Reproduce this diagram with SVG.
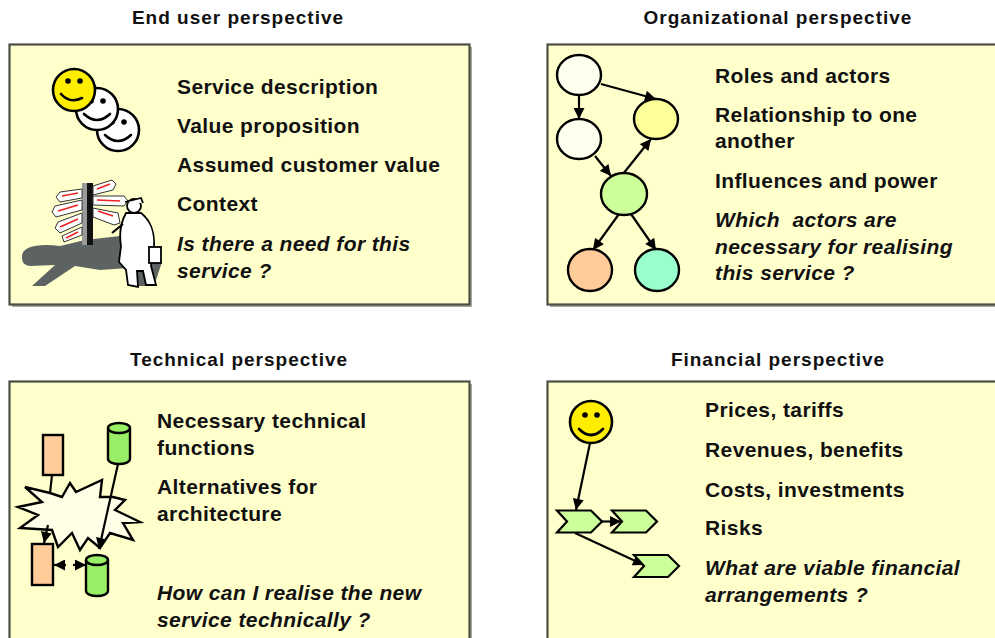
<svg xmlns="http://www.w3.org/2000/svg" width="995" height="638" viewBox="0 0 995 638">
  <style>
    .title { font-family: "Liberation Sans", Arial, sans-serif; font-weight: bold; font-size: 19px; letter-spacing: 1px; fill: #111; text-anchor: middle; }
    .item { font-family: "Liberation Sans", Arial, sans-serif; font-weight: bold; font-size: 21px; letter-spacing: 0.4px; fill: #111; }
    .q { font-style: italic; }
    .panel { fill: #ffffcc; stroke: #4e4e44; stroke-width: 2.2; }
    .shadow { fill: #a8a8a0; }
    .ln { stroke: #000; stroke-width: 2.2; fill: none; }
    .arr { stroke: #000; stroke-width: 2.2; fill: none; marker-end: url(#ah); }
    .node { stroke: #000; stroke-width: 2.4; }
    .face { stroke: #000; stroke-width: 2.6; }
    .smile { stroke: #000; stroke-width: 2.6; fill: none; stroke-linecap: round; }
    .outl { stroke: #000; stroke-width: 1.8; }
  </style>
  <defs>
    <marker id="ah" viewBox="0 0 10 10" refX="10" refY="5" markerWidth="13" markerHeight="11" orient="auto-start-reverse" markerUnits="userSpaceOnUse">
      <path d="M0,0 L10,5 L0,10 z" fill="#000"/>
    </marker>
    <g id="smiley">
      <circle r="21" fill="#fff" class="face"/>
      <circle cx="-6" cy="-8" r="2.8" fill="#000"/>
      <circle cx="6" cy="-8" r="2.8" fill="#000"/>
      <path d="M-13,5 Q0,17 13,5" class="smile"/>
    </g>
    <path id="chev" d="M0,0 H34 L45,11 L34,22 H0 L10,11 Z"/>
  </defs>

  <rect width="995" height="638" fill="#fff"/>

  <!-- panel frames -->
  <g id="panels">
    <rect class="shadow" x="12" y="47" width="460" height="260"/>
    <rect class="panel" x="9.5" y="44.5" width="460" height="260"/>
    <rect class="shadow" x="550" y="47" width="460" height="260"/>
    <rect class="panel" x="547.5" y="44.5" width="460" height="260"/>
    <rect class="shadow" x="12" y="384" width="460" height="270"/>
    <rect class="panel" x="9.5" y="381.5" width="460" height="270"/>
    <rect class="shadow" x="550" y="384" width="460" height="270"/>
    <rect class="panel" x="547.5" y="381.5" width="460" height="270"/>
  </g>

  <!-- headings -->
  <g id="headings">
    <text class="title" x="238" y="24">End user perspective</text>
    <text class="title" x="778" y="24">Organizational perspective</text>
    <text class="title" x="239" y="366">Technical perspective</text>
    <text class="title" x="778" y="366">Financial perspective</text>
  </g>

  <!-- end user panel -->
  <g id="enduser">
    <g id="faces">
      <use href="#smiley" x="118" y="130"/>
      <use href="#smiley" x="97" y="109"/>
      <g transform="translate(74,90)">
        <circle r="21" fill="#ffee00" class="face"/>
        <circle cx="-6" cy="-9" r="2.8" fill="#000"/>
        <circle cx="6" cy="-9" r="2.8" fill="#000"/>
        <path d="M-13,4 Q-4,14 8,8" class="smile"/>
      </g>
    </g>
    <g id="signpost">
      <!-- ground shadow -->
      <path d="M22,256 C22,246 40,243 60,246 L85,240 L120,236 L150,240 L162,262 L154,286 L138,286 L128,268 L100,270 L75,266 L45,286 L32,286 L55,265 L30,266 C22,265 22,260 22,256 Z" fill="#5d6363"/>
      <!-- post -->
      <rect x="82" y="183" width="5" height="62" fill="#9a9a9a"/>
      <rect x="87" y="183" width="6" height="62" fill="#111"/>
      <!-- left signs -->
      <path d="M60,192 L82,189 L82,198 L60,202 L56,197 Z" fill="#fff" stroke="#333" stroke-width="1"/>
      <path d="M55,206 L82,200 L82,210 L56,217 L52,212 Z" fill="#fff" stroke="#333" stroke-width="1"/>
      <path d="M58,222 L82,213 L82,223 L60,233 L55,228 Z" fill="#fff" stroke="#333" stroke-width="1"/>
      <path d="M62,236 L82,227 L82,235 L64,242 Z" fill="#fff" stroke="#333" stroke-width="1"/>
      <path d="M62,196 L78,193 M58,211 L78,205 M60,227 L78,219 M66,238 L78,232" stroke="#ee2222" stroke-width="1.6"/>
      <!-- right signs -->
      <path d="M93,186 L112,180 L116,184 L113,190 L93,195 Z" fill="#fff" stroke="#333" stroke-width="1"/>
      <path d="M93,196 L124,196 L128,201 L124,206 L93,205 Z" fill="#fff" stroke="#333" stroke-width="1"/>
      <path d="M93,208 L118,213 L120,223 L114,225 L93,217 Z" fill="#fff" stroke="#333" stroke-width="1"/>
      <path d="M97,189 L110,184 M97,200 L120,201 M98,211 L113,216" stroke="#ee2222" stroke-width="1.6"/>
      <!-- traveller -->
      <path d="M126,213 C121,222 119,234 121,246 L119,262 L126,270 L128,285 L138,287 L137,271 L143,271 L146,285 L156,285 L151,266 L154,246 C155,232 150,220 141,213 Z" fill="#fff" class="outl"/>
      <circle cx="134" cy="206" r="7" fill="#fff" class="outl"/>
      <path d="M125,202 L141,198 L143,203" fill="#fff" class="outl"/>
      <path d="M123,224 L112,233" class="ln" stroke-width="1.6"/>
      <rect x="149" y="247" width="12" height="16" fill="#fff" class="outl"/>
    </g>
    <text class="item" x="177" y="94">Service description</text>
    <text class="item" x="177" y="133">Value proposition</text>
    <text class="item" x="177" y="172">Assumed customer value</text>
    <text class="item" x="177" y="211">Context</text>
    <text class="item q" x="177" y="251">Is there a need for this</text>
    <text class="item q" x="177" y="278">service ?</text>
  </g>

  <!-- organizational panel -->
  <g id="org-links">
    <line class="arr" x1="601" y1="84" x2="656" y2="99"/>
    <line class="arr" x1="579" y1="95" x2="579" y2="119"/>
    <line class="arr" x1="595" y1="156" x2="611" y2="176"/>
    <line class="arr" x1="623" y1="174" x2="651" y2="139"/>
    <line class="arr" x1="619" y1="214" x2="593" y2="250"/>
    <line class="arr" x1="631" y1="214" x2="656" y2="250"/>
  </g>
  <g id="actor-a"><ellipse class="node" cx="579" cy="75" rx="22" ry="20" fill="#fffff0"/></g>
  <g id="actor-b"><ellipse class="node" cx="579" cy="139" rx="22" ry="20" fill="#fffff0"/></g>
  <g id="actor-c"><ellipse class="node" cx="656" cy="119" rx="22" ry="20" fill="#ffff99"/></g>
  <g id="actor-d"><ellipse class="node" cx="624" cy="194" rx="23" ry="21" fill="#ccff99"/></g>
  <g id="actor-e"><ellipse class="node" cx="590" cy="270" rx="22" ry="21" fill="#ffcc99"/></g>
  <g id="actor-f"><ellipse class="node" cx="657" cy="270" rx="22" ry="21" fill="#99ffcc"/></g>
  <g id="org-text">
    <text class="item" x="715" y="83">Roles and actors</text>
    <text class="item" x="715" y="122">Relationship to one</text>
    <text class="item" x="715" y="148">another</text>
    <text class="item" x="715" y="188">Influences and power</text>
    <text class="item q" x="715" y="227" xml:space="preserve">Which  actors are</text>
    <text class="item q" x="715" y="254">necessary for realising</text>
    <text class="item q" x="715" y="280">this service ?</text>
  </g>

  <!-- technical panel -->
  <g id="tech-burst">
    <path d="M18,507 L42,502 L25,487 L50,493 L62,497 L70,483 L76,492 L102,480 L100,497 L113,497 L125,500 L115,510 L140,522 L123,523 L133,540 L110,533 L100,548 L88,538 L80,550 L72,533 L58,547 L52,530 L20,528 L38,515 Z" fill="#ffffe8" stroke="#000" stroke-width="2.4" stroke-linejoin="miter"/>
  </g>
  <g id="tech-links">
    <line class="ln" x1="52" y1="475" x2="50" y2="493"/>
    <line class="arr" x1="118" y1="464" x2="99" y2="549"/>
    <line class="arr" x1="48" y1="525" x2="44" y2="543"/>
    <line class="arr" x1="66" y1="565" x2="54" y2="565"/>
    <line class="arr" x1="73" y1="565" x2="86" y2="565"/>
  </g>
  <g id="comp-top"><rect class="node" x="43" y="435" width="20" height="40" fill="#ffcc99"/></g>
  <g id="db-top">
    <path class="node" d="M108,428 V459 A11,5 0 0 0 130,459 V428" fill="#99ee66"/>
    <ellipse class="node" cx="119" cy="428" rx="11" ry="5" fill="#99ee66"/>
  </g>
  <g id="comp-bottom"><rect class="node" x="32" y="544" width="21" height="41" fill="#ffcc99"/></g>
  <g id="db-bottom">
    <path class="node" d="M86,560 V591 A11,5 0 0 0 108,591 V560" fill="#99ee66"/>
    <ellipse class="node" cx="97" cy="560" rx="11" ry="5" fill="#99ee66"/>
  </g>
  <g id="tech-text">
    <text class="item" x="157" y="428">Necessary technical</text>
    <text class="item" x="157" y="455">functions</text>
    <text class="item" x="157" y="494">Alternatives for</text>
    <text class="item" x="157" y="521">architecture</text>
    <text class="item q" x="157" y="600">How can I realise the new</text>
    <text class="item q" x="157" y="627">service technically ?</text>
  </g>

  <!-- financial panel -->
  <g id="fin-links">
    <line class="arr" x1="590" y1="443" x2="576" y2="510"/>
    <line class="arr" x1="602" y1="521.5" x2="621" y2="521.5"/>
    <line class="arr" x1="575" y1="533" x2="644" y2="565"/>
  </g>
  <g id="customer">
    <circle class="face" cx="591" cy="422" r="21" fill="#ffee00"/>
    <circle cx="585" cy="415" r="2.8" fill="#000"/>
    <circle cx="597" cy="415" r="2.8" fill="#000"/>
    <path class="smile" d="M579,429 Q591,441 603,429"/>
  </g>
  <g id="step-1"><use href="#chev" x="557" y="510.5" fill="#ccff99" stroke="#000" stroke-width="2.2"/></g>
  <g id="step-2"><use href="#chev" x="612" y="510.5" fill="#ccff99" stroke="#000" stroke-width="2.2"/></g>
  <g id="step-3"><use href="#chev" x="634" y="555" fill="#ccff99" stroke="#000" stroke-width="2.2"/></g>
  <g id="fin-text">
    <text class="item" x="705" y="417">Prices, tariffs</text>
    <text class="item" x="705" y="457">Revenues, benefits</text>
    <text class="item" x="705" y="497">Costs, investments</text>
    <text class="item" x="705" y="535">Risks</text>
    <text class="item q" x="705" y="575">What are viable financial</text>
    <text class="item q" x="705" y="602">arrangements ?</text>
  </g>
</svg>
